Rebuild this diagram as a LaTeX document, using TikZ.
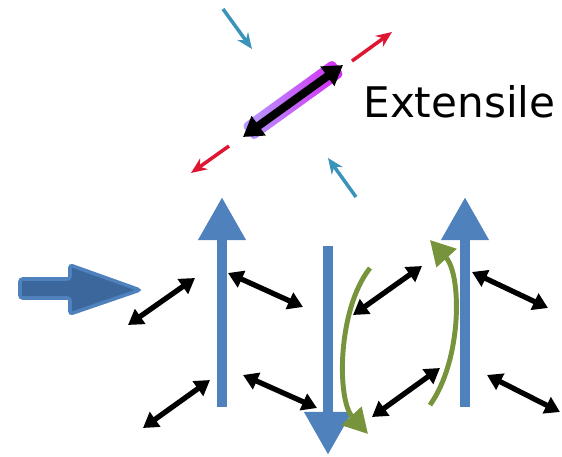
\documentclass[tikz,border=0pt]{standalone}
\usepackage{fontspec}
\newfontfamily\labelfont{DejaVu Sans}
\usetikzlibrary{arrows.meta}
\definecolor{barblue}{RGB}{79,129,189}
\definecolor{pushblue}{RGB}{60,103,156}
\definecolor{leafgreen}{RGB}{119,147,60}
\definecolor{tealarrow}{RGB}{58,147,184}
\definecolor{redarrow}{RGB}{222,22,50}
\definecolor{magentaband}{RGB}{214,40,245}
\definecolor{lavenderband}{RGB}{180,160,255}

\begin{document}
\begin{tikzpicture}[x=0.02cm, y=-0.02cm, >=Latex,
    bar/.style={barblue, line width=6.2pt, -{Triangle[length=24.5pt,width=25.5pt]}},
    pair/.style={black, line width=3pt, {Triangle[length=8.5pt,width=10pt]}-{Triangle[length=8.5pt,width=10pt]}},
    swirl/.style={leafgreen, line width=2.8pt, -{Triangle[length=14pt,width=15pt]}},
    small/.style={line width=2pt, -{Stealth[length=9pt,width=7.5pt]}}]
    \useasboundingbox (0,0) rectangle (562,457);
    % principal direction with its shaded band
    \node (band) [rotate=35.8, minimum width=64pt, minimum height=11pt, inner sep=0pt,
        rounded corners=2.5pt, left color=lavenderband, right color=magentaband] at (293,100) {};
    \coordinate (ext1) at (243,137);
    \coordinate (ext2) at (343,65);
    \draw[black, line width=4.6pt, {Triangle[length=11pt,width=13pt]}-{Triangle[length=11pt,width=13pt]}] (ext1) -- (ext2);
    \node (label) [anchor=base west, inner sep=0pt, font=\labelfont\fontsize{24}{28}\selectfont] at (363,117) {Extensile};
    % stretching and squeezing
    \coordinate (red1a) at (352,61);  \coordinate (red1b) at (392,32);
    \coordinate (red2a) at (229,146); \coordinate (red2b) at (191,173);
    \coordinate (teal1a) at (223,9);  \coordinate (teal1b) at (252,49);
    \coordinate (teal2a) at (356,197); \coordinate (teal2b) at (328,158);
    \draw[small, redarrow] (red1a) -- (red1b);
    \draw[small, redarrow] (red2a) -- (red2b);
    \draw[small, tealarrow] (teal1a) -- (teal1b);
    \draw[small, tealarrow] (teal2a) -- (teal2b);
    % push from the left
    \filldraw[fill=pushblue, draw=barblue, line width=2pt, rounded corners=1.5pt]
        (20,279) -- (70,279) -- (70,265) -- (140,290) -- (70,314) -- (70,298) -- (20,298) -- cycle;
    % flow bars
    \coordinate (barA1) at (222,407); \coordinate (barA2) at (222,197);
    \coordinate (barB1) at (328,246); \coordinate (barB2) at (328,455);
    \coordinate (barC1) at (465,407); \coordinate (barC2) at (465,197);
    \draw[bar] (barA1) -- (barA2);
    \draw[bar] (barB1) -- (barB2);
    \draw[bar] (barC1) -- (barC2);
    % rotation
    \coordinate (rot1a) at (370,268); \coordinate (rot1b) at (368,434);
    \coordinate (rot2a) at (430,405); \coordinate (rot2b) at (430,240);
    \draw[swirl] (rot1a) .. controls (337,310) and (337,400) .. (rot1b);
    \draw[swirl] (rot2a) .. controls (462,360) and (462,275) .. (rot2b);
    % element pairs
    \coordinate (p1a) at (128,325); \coordinate (p1b) at (195,278);
    \coordinate (p2a) at (228,273); \coordinate (p2b) at (303,307);
    \coordinate (p3a) at (143,428); \coordinate (p3b) at (210,380);
    \coordinate (p4a) at (243,375); \coordinate (p4b) at (317,408);
    \coordinate (p5a) at (353,315); \coordinate (p5b) at (422,266);
    \coordinate (p6a) at (472,272); \coordinate (p6b) at (548,308);
    \coordinate (p7a) at (372,417); \coordinate (p7b) at (440,368);
    \coordinate (p8a) at (487,375); \coordinate (p8b) at (560,412);
    \draw[pair] (p1a) -- (p1b);
    \draw[pair] (p2a) -- (p2b);
    \draw[pair] (p3a) -- (p3b);
    \draw[pair] (p4a) -- (p4b);
    \draw[pair] (p5a) -- (p5b);
    \draw[pair] (p6a) -- (p6b);
    \draw[pair] (p7a) -- (p7b);
    \draw[pair] (p8a) -- (p8b);
\end{tikzpicture}
\end{document}
